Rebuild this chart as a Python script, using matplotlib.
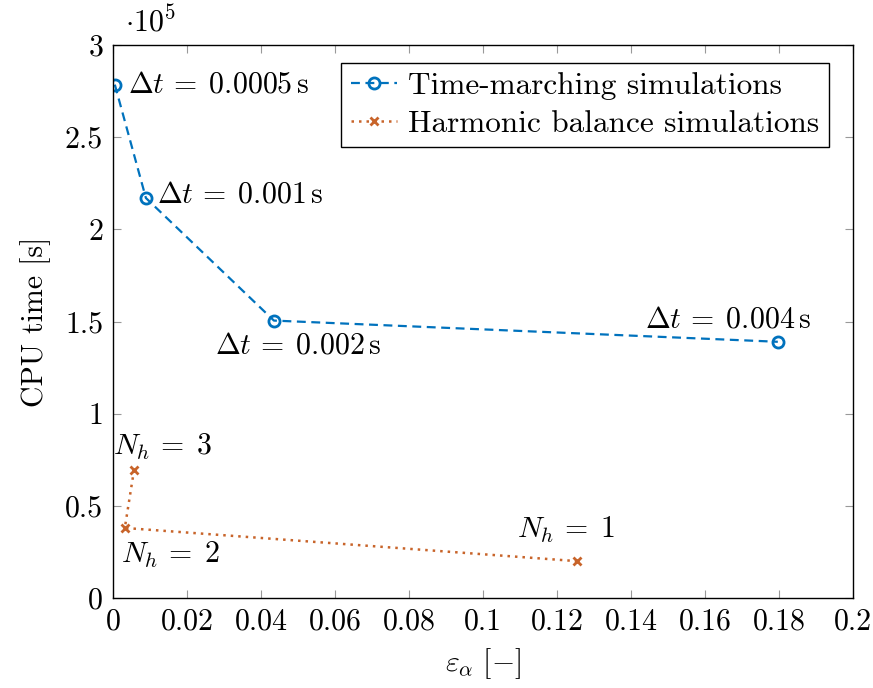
import matplotlib
matplotlib.use("Agg")
import matplotlib.pyplot as plt
from matplotlib.ticker import FuncFormatter

plt.rcParams['font.family'] = 'serif'
plt.rcParams['font.serif'] = ['cmr10']
plt.rcParams['mathtext.fontset'] = 'cm'
plt.rcParams['axes.formatter.use_mathtext'] = True
plt.rcParams['font.size'] = 21.5

# time-marching runs
tm_err = [0.0005, 0.0089, 0.0435, 0.1797]
tm_cpu = [2.785e5, 2.17e5, 1.505e5, 1.39e5]
tm_labels = [r'$\Delta t\,=\;0.0005\,\mathrm{s}$', r'$\Delta t\,=\;0.001\,\mathrm{s}$',
             r'$\Delta t\,=\;0.002\,\mathrm{s}$', r'$\Delta t\,=\;0.004\,\mathrm{s}$']

# harmonic balance runs
hb_err = [0.0057, 0.0032, 0.1254]
hb_cpu = [0.695e5, 0.38e5, 0.2e5]
hb_labels = [r'$N_h\,=\;3$', r'$N_h\,=\;2$', r'$N_h\,=\;1$']

blue = '#0072BD'
orange = '#C8642A'

fig = plt.figure(figsize=(8.73, 6.88), dpi=100)
ax = fig.add_axes([0.1294, 0.1308, 0.8476, 0.8038])

scale = 1e5
ax.plot(tm_err, [v / scale for v in tm_cpu], color=blue, ls=(0, (4, 2.5)), lw=1.6,
        marker='o', ms=8, mfc='none', mec=blue, mew=2, label='Time-marching simulations')
ax.plot(hb_err, [v / scale for v in hb_cpu], color=orange, ls=(0, (1, 2)), lw=1.8,
        marker='x', ms=6, mew=2, label='Harmonic balance simulations')

# label offsets in pixels, with alignment
tm_off = [((13, 0), 'left'), ((11, 3), 'left'), ((24, -25), 'center'), ((-50, 22), 'center')]
for x, y, lab, (off, ha) in zip(tm_err, tm_cpu, tm_labels, tm_off):
    ax.annotate(lab, (x, y / scale), xytext=off, textcoords='offset pixels',
                ha=ha, va='center')
hb_off = [(28, 23), (46, -27), (-11, 31)]
for x, y, lab, off in zip(hb_err, hb_cpu, hb_labels, hb_off):
    ax.annotate(lab, (x, y / scale), xytext=off, textcoords='offset pixels',
                ha='center', va='center')

ax.set_xlim(0, 0.2)
ax.set_ylim(0, 3)
ax.set_xticks([0, 0.02, 0.04, 0.06, 0.08, 0.1, 0.12, 0.14, 0.16, 0.18, 0.2])
ax.set_yticks([0, 0.5, 1, 1.5, 2, 2.5, 3])
fmt = FuncFormatter(lambda v, p: '%g' % round(v, 4))
ax.xaxis.set_major_formatter(fmt)
ax.yaxis.set_major_formatter(fmt)
ax.tick_params(direction='in', length=6, color='#999999', top=True, right=True, pad=7)
for s in ax.spines.values():
    s.set_linewidth(1.0)

ax.text(0.016, 1.025, r'$\cdot 10^5$', transform=ax.transAxes, ha='left', va='baseline')

ax.set_xlabel(r'$\varepsilon_\alpha\ [-]$', labelpad=8)
ax.set_ylabel('CPU time [s]', labelpad=10)

leg = ax.legend(loc='upper right', bbox_to_anchor=(0.9676, 0.9675), fancybox=False,
                edgecolor='black', framealpha=1, handlelength=1.5, handletextpad=0.35,
                borderpad=0.3, labelspacing=0.3, borderaxespad=0, fontsize=22.5)
leg.get_frame().set_linewidth(1.0)

fig.savefig('out.png', dpi=100)
